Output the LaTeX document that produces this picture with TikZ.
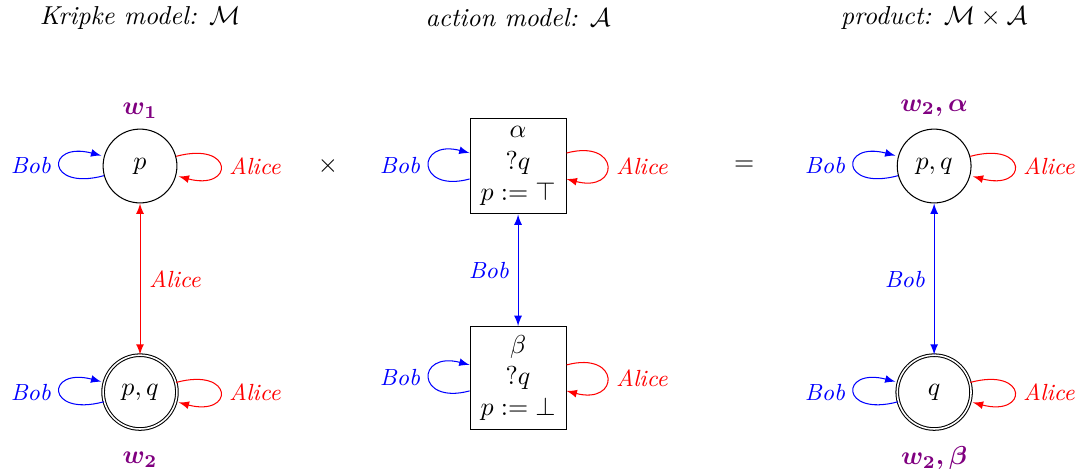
\documentclass[tikz,border=0pt]{standalone}
\usepackage{amsmath,amssymb}
\usetikzlibrary{arrows}
\begin{document}
\begin{tikzpicture}[
    >=latex,
    % Styles
    world/.style={draw, circle, minimum size=1cm, inner sep=1pt},
    actual/.style={world, double},
    event/.style={draw, rectangle, align=center, minimum width=1.3cm},
    title/.style={font=\itshape},
    bobedge/.style={->, blue},
    aliceedge/.style={->, red},
    boxloopleft/.style={out=195, in=165, looseness=5.5},
    boxloopright/.style={out=15, in=-15, looseness=5.5},
    boblabel/.style={text=blue, font=\small\itshape},
    alicelabel/.style={text=red, font=\small\itshape},
    wname/.style={text=violet}
]
\useasboundingbox (0,0) rectangle (14.70,-6.395);

% --- Titles ---
\node[title] (tkripke) at (1.897,-0.244) {Kripke model: $\mathcal{M}$};
\node[title] (taction) at (7.019,-0.244) {action model: $\mathcal{A}$};
\node[title] (tproduct) at (12.656,-0.244) {product: $\mathcal{M}\times\mathcal{A}$};

% --- Kripke model ---
\node[world] (w1) at (1.897,-2.249) {$p$};
\node[actual] (w2) at (1.897,-5.312) {$p,q$};
\node[wname] (w1name) at (1.897,-1.50) {$\boldsymbol{w_1}$};
\node[wname] (w2name) at (1.897,-6.233) {$\boldsymbol{w_2}$};

\path (w1) edge[bobedge, loop left] node[boblabel, left] {Bob} ()
           edge[aliceedge, loop right] node[alicelabel, right] {Alice} ();
\path (w2) edge[bobedge, loop left] node[boblabel, left] {Bob} ()
           edge[aliceedge, loop right] node[alicelabel, right] {Alice} ();
\draw[<->, red] (w1) -- (w2) node[midway, right, alicelabel] {Alice};

\node (times) at (4.444,-2.249) {$\times$};

% --- Action model ---
\node[event] (ealpha) at (7.019,-2.249) {$\alpha$\\$?q$\\$p:=\top$};
\node[event] (ebeta) at (7.019,-5.12) {$\beta$\\$?q$\\$p:=\bot$};

\path (ealpha) edge[bobedge, boxloopleft] node[boblabel, left] {Bob} (ealpha)
               edge[aliceedge, boxloopright] node[alicelabel, right] {Alice} (ealpha);
\path (ebeta) edge[bobedge, boxloopleft] node[boblabel, left] {Bob} (ebeta)
              edge[aliceedge, boxloopright] node[alicelabel, right] {Alice} (ebeta);
\draw[<->, blue] (ealpha) -- (ebeta) node[midway, left, boblabel] {Bob};

\node (equals) at (10.081,-2.249) {$=$};

% --- Product ---
\node[world] (pa) at (12.656,-2.249) {$p,q$};
\node[actual] (pb) at (12.656,-5.312) {$q$};
\node[wname] (paname) at (12.656,-1.46) {$\boldsymbol{w_2,\alpha}$};
\node[wname] (pbname) at (12.656,-6.206) {$\boldsymbol{w_2,\beta}$};

\path (pa) edge[bobedge, loop left] node[boblabel, left] {Bob} ()
           edge[aliceedge, loop right] node[alicelabel, right] {Alice} ();
\path (pb) edge[bobedge, loop left] node[boblabel, left] {Bob} ()
           edge[aliceedge, loop right] node[alicelabel, right] {Alice} ();
\draw[<->, blue] (pa) -- (pb) node[midway, left, boblabel] {Bob};

\end{tikzpicture}
\end{document}
